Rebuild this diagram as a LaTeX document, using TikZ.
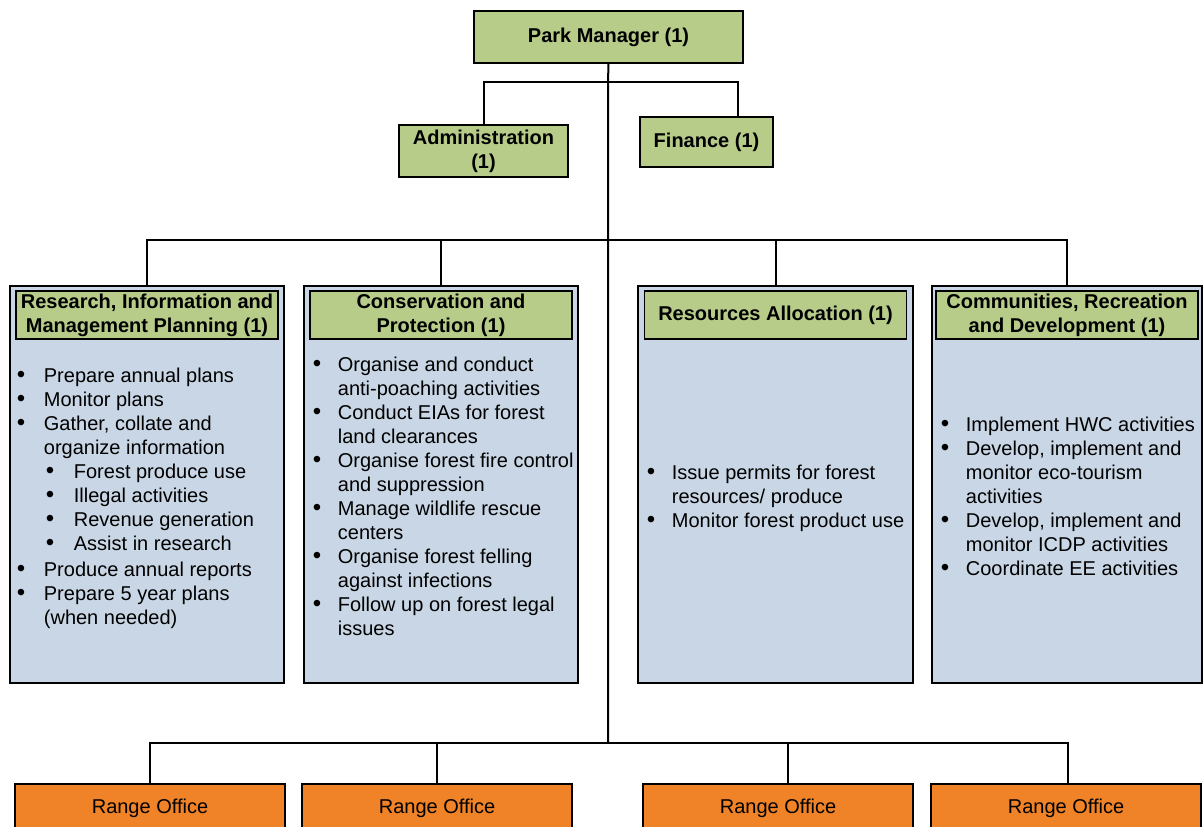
\documentclass[tikz,border=0pt]{standalone}
\usepackage{fontspec}
\setmainfont{Liberation Sans}
\usetikzlibrary{calc}
\definecolor{olivebox}{RGB}{184,204,138}
\definecolor{bluebox}{RGB}{201,214,229}
\definecolor{orangebox}{RGB}{240,130,40}
\tikzset{post/.style={draw,fill=olivebox,line width=0.6pt,font=\bfseries,align=center,inner sep=1pt}}
\tikzset{duty/.style={draw,fill=bluebox,line width=0.6pt,minimum height=198.5pt}}
\tikzset{office/.style={draw,fill=orangebox,line width=0.6pt,minimum width=135pt,minimum height=24pt}}
\tikzset{link/.style={line width=1pt}}
\tikzset{tasks/.style={anchor=base west,inner sep=0pt}}
\newcommand{\bul}{\hspace*{1.5pt}\scalebox{1.2}{\textbullet}}
\newcommand{\subbul}{\makebox[15pt][l]{\hspace*{1pt}\scalebox{1.2}{\textbullet}}}

\begin{document}
\begin{tikzpicture}[x=0.5pt, y=-0.5pt]
	\useasboundingbox (0,0) rectangle (1203,826);
	
	\node [post, minimum width=134.5pt, minimum height=26pt] (pm) at (608.5,37) {Park Manager (1)};
	\node [post, minimum width=84.5pt, minimum height=26pt] (adm) at (483.5,151) {Administration\\(1)};
	\node [post, minimum width=66.5pt, minimum height=25pt] (fin) at (706.5,142) {Finance (1)};
	
	\foreach \n/\x/\w in {1/147/137pt, 2/441/137pt, 3/775.5/137.5pt, 4/1067/135pt}
		\node [duty, minimum width=\w] (d\n) at (\x,484.5) {};
	
	\node [post, minimum width=131pt, minimum height=24pt, anchor=north] (h1) at ([yshift=-2.5pt]d1.north) {Research, Information and\\Management Planning (1)};
	\node [post, minimum width=131pt, minimum height=24pt, anchor=north] (h2) at ([yshift=-2.5pt]d2.north) {Conservation and\\Protection (1)};
	\node [post, minimum width=131pt, minimum height=24pt, anchor=north] (h3) at ([yshift=-2.5pt]d3.north) {Resources Allocation (1)};
	\node [post, minimum width=131pt, minimum height=24pt, anchor=north] (h4) at ([yshift=-2.5pt]d4.north) {Communities, Recreation\\and Development (1)};
	
	\node [tasks] (t1) at (13.5,382) {\begin{tabular}[t]{@{}p{15pt}@{}l@{}}
		\bul & Prepare annual plans\\
		\bul & Monitor plans\\
		\bul & Gather, collate and\\
		& organize information\\
		& \subbul Forest produce use\\
		& \subbul Illegal activities\\
		& \subbul Revenue generation\\
		& \subbul Assist in research\\[1pt]
		\bul & Produce annual reports\\
		\bul & Prepare 5 year plans\\
		& (when needed)
	\end{tabular}};
	\node [tasks] (t2) at (309.5,371) {\begin{tabular}[t]{@{}p{14pt}@{}l@{}}
		\bul & Organise and conduct\\
		& anti-poaching activities\\
		\bul & Conduct EIAs for forest\\
		& land clearances\\
		\bul & Organise forest fire control\\
		& and suppression\\
		\bul & Manage wildlife rescue\\
		& centers\\
		\bul & Organise forest felling\\
		& against infections\\
		\bul & Follow up on forest legal\\
		& issues
	\end{tabular}};
	\node [tasks] (t3) at (643.5,479) {\begin{tabular}[t]{@{}p{14pt}@{}l@{}}
		\bul & Issue permits for forest\\
		& resources/ produce\\
		\bul & Monitor forest product use
	\end{tabular}};
	\node [tasks] (t4) at (937.5,431) {\begin{tabular}[t]{@{}p{14pt}@{}l@{}}
		\bul & Implement HWC activities\\
		\bul & Develop, implement and\\
		& monitor eco-tourism\\
		& activities\\
		\bul & Develop, implement and\\
		& monitor ICDP activities\\
		\bul & Coordinate EE activities
	\end{tabular}};
	
	\foreach \n/\x in {1/150, 2/437, 3/778, 4/1066}
		\node [office] (ro\n) at (\x,808) {Range Office};
	
	\coordinate (j1) at (608,82);
	\coordinate (j2) at (608,240);
	\coordinate (j3) at (608,743);
	\draw [link] (pm.south) -- (j1) -- (j3);
	\draw [link] (adm.north) |- (j1) -| ([xshift=15.75pt]fin.north);
	\draw [link] (d1.north) |- (j2) -| (d4.north);
	\foreach \n in {2,3} \draw [link] (d\n.north) -- (d\n.north |- j2);
	\draw [link] (ro1.north) |- (j3) -| ([xshift=1pt]ro4.north);
	\draw [link] (ro2.north) -- (ro2.north |- j3);
	\draw [link] ([xshift=5pt]ro3.north) -- ([xshift=5pt]ro3.north |- j3);
\end{tikzpicture}
\end{document}
